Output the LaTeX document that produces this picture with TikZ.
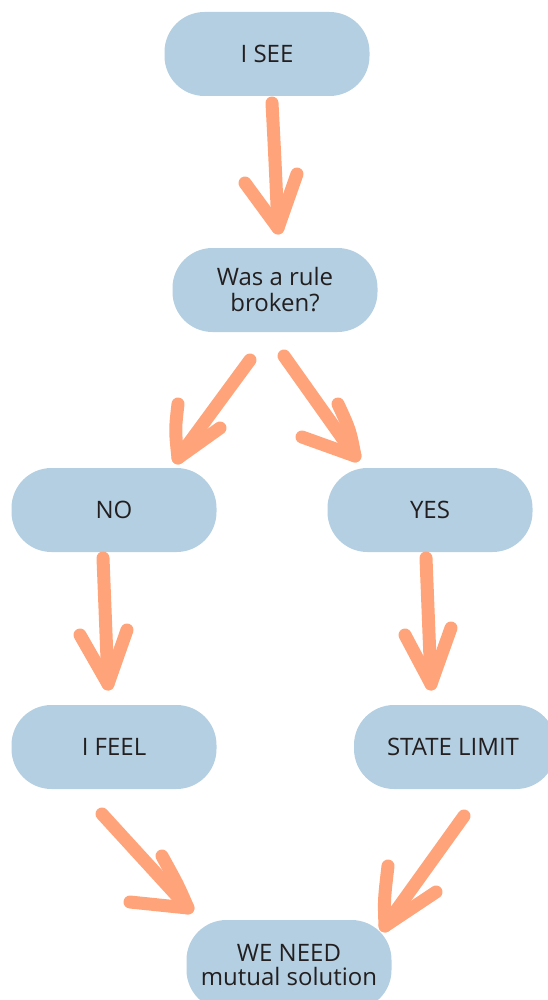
\documentclass[tikz,border=0pt]{standalone}
\usepackage{fontspec}
\setmainfont{Open Sans}
\definecolor{boxblue}{HTML}{B3CFE1}
\definecolor{arrorange}{HTML}{FFA37A}
\definecolor{txt}{HTML}{231F20}
\begin{document}
\begin{tikzpicture}[x=1pt,y=-1pt,
  pill/.style={fill=boxblue, draw=none, rounded corners=40pt, minimum width=205pt, minimum height=84pt,
    font=\fontsize{24}{26}\selectfont, text=txt, align=center, inner sep=0pt},
  handarrow/.style={draw=arrorange, line width=13pt, line cap=round, line join=round}]
\useasboundingbox (0,0) rectangle (548,1000);

\node[pill] (see) at (267,54) {I SEE};
\node[pill] (rule) at (275,290) {Was a rule\\broken?};
\node[pill] (no) at (114,510) {NO};
\node[pill] (yes) at (430,510) {YES};
\node[pill] (feel) at (114,747) {I FEEL};
\node[pill, minimum width=202pt] (limit) at (455,747) {\hspace*{-4pt}STATE LIMIT};
\node[pill, minimum height=90pt] (need) at (289,965) {WE NEED\\[-2pt]mutual solution};

% arrow 1: see -> rule
\coordinate (a1s) at (272,103);
\coordinate (a1t) at (278,228);
\draw[handarrow] (a1s) .. controls (275,160) .. (a1t);
\draw[handarrow] (245,183) -- (a1t) -- (297,174);

% arrow 2: rule -> no
\coordinate (a2s) at (250,360);
\coordinate (a2t) at (178,458);
\draw[handarrow] (a2s) -- (a2t);
\draw[handarrow] (178,404) .. controls (175,430) .. (a2t) -- (220,428);

% arrow 3: rule -> yes
\coordinate (a3s) at (284,356);
\coordinate (a3t) at (355,456);
\draw[handarrow] (a3s) -- (a3t);
\draw[handarrow] (338,404) .. controls (350,430) .. (a3t) -- (302,437);

% arrow 4: no -> feel
\coordinate (a4s) at (103,558);
\coordinate (a4t) at (108,684);
\draw[handarrow] (a4s) -- (a4t);
\draw[handarrow] (80,635) -- (a4t) -- (127,630);

% arrow 5: yes -> limit
\coordinate (a5s) at (426,558);
\coordinate (a5t) at (431,684);
\draw[handarrow] (a5s) -- (a5t);
\draw[handarrow] (405,635) -- (a5t) -- (451,628);

% arrow 6: feel -> need
\coordinate (a6s) at (102,814);
\coordinate (a6t) at (188,908);
\draw[handarrow] (a6s) -- (a6t);
\draw[handarrow] (162,856) .. controls (178,885) .. (a6t) -- (130,902);

% arrow 7: limit -> need
\coordinate (a7s) at (464,816);
\coordinate (a7t) at (385,926);
\draw[handarrow] (a7s) -- (a7t);
\draw[handarrow] (388,866) .. controls (384,900) .. (a7t) -- (436,892);
\end{tikzpicture}
\end{document}
